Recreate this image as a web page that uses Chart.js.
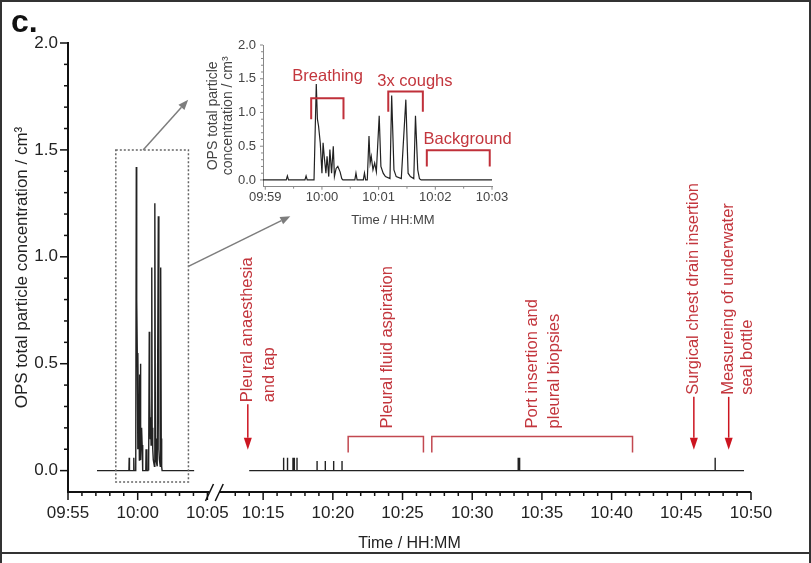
<!DOCTYPE html>
<html>
<head>
<meta charset="utf-8">
<script src="https://cdn.jsdelivr.net/npm/chart.js@4.4.1/dist/chart.umd.min.js"></script>
<style>
  html, body { margin: 0; padding: 0; background: #fff; }
  #wrap { position: relative; width: 811px; height: 563px; overflow: hidden; background: #fff; }
  #main { position: absolute; left: 0; top: 0; }
  #inset { position: absolute; left: 180px; top: 30px; }
  .frame { position: absolute; left: 0; top: 0; width: 807px; height: 550px; border: 2px solid #333; }
  .frame-low { position: absolute; left: 0; top: 554px; width: 807px; height: 20px; border-left: 2px solid #333; border-right: 2px solid #333; }
</style>
</head>
<body>
<div id="wrap">
  <div class="frame"></div>
  <div class="frame-low"></div>
  <canvas id="main" width="811" height="563"></canvas>
  <canvas id="inset" width="350" height="210"></canvas>
</div>
<script>
const FONT = "'Liberation Sans', Arial, Helvetica, sans-serif";

// ---- data (time = minutes after 09:55) ----
// breathing + cough run, shown in the main panel and the inset
const runTimes = [2.08, 4.37, 4.39, 4.41, 4.70, 4.72, 4.74, 4.86, 4.90, 4.92, 4.94, 4.97, 5.00, 5.02,
    5.04, 5.07, 5.09, 5.12, 5.14, 5.17, 5.20, 5.22, 5.25, 5.28, 5.32, 5.35, 5.37, 5.58, 5.60, 5.62,
    5.73, 5.75, 5.77, 5.80, 5.83, 5.85, 5.87, 5.90, 5.93, 5.96, 6.01, 6.04, 6.08, 6.12, 6.20, 6.23,
    6.27, 6.31, 6.40, 6.48, 6.52, 6.56, 6.62, 6.65, 6.69, 6.72, 6.75, 9.05];
const runValues = [0, 0, 0.06, 0, 0, 0.06, 0, 0, 1.42, 0.90, 0.80, 0.55, 0.10, 0.55,
    0.35, 0.10, 0.35, 0.05, 0.45, 0.10, 0.50, 0.05, 0.17, 0.20, 0.12, 0.02, 0, 0, 0.10, 0,
    0, 0.10, 0, 0, 0.65, 0.25, 0.35, 0.15, 0.25, 0.12, 0.95, 0.20, 0.10, 0.05, 0.02, 1.25,
    0.15, 0.05, 0.02, 1.19, 0.10, 0.05, 0.02, 0.95, 0.15, 0.02, 0, 0];

// procedure recording (after the axis break)
const procStart = 19.0;
const procEnd = 54.5;
const spikeTimes = [21.47, 21.75, 22.14, 22.24, 22.43, 23.87, 24.46, 25.06, 25.66, 38.30, 38.40, 52.43];
const spikeValues = [0.06, 0.06, 0.06, 0.06, 0.06, 0.045, 0.045, 0.045, 0.045, 0.06, 0.06, 0.06];

const xTickLabels = ['09:55', '10:00', '10:05', '10:15', '10:20', '10:25', '10:30', '10:35', '10:40', '10:45', '10:50'];
const yTickLabels = ['0.0', '0.5', '1.0', '1.5', '2.0'];
const insetXTickLabels = ['09:59', '10:00', '10:01', '10:02', '10:03'];

// annotations
const eventNames = [['Pleural anaesthesia', 'and tap'], ['Surgical chest drain insertion'], ['Measureing of underwater', 'seal bottle']];
const eventTimes = [18.9, 50.9, 53.4];
const phaseNames = [['Pleural fluid aspiration'], ['Port insertion and', 'pleural biopsies']];
const phaseStart = [26.1, 32.1];
const phaseEnd = [31.5, 46.5];
const insetPhaseNames = ['Breathing', '3x coughs', 'Background'];
const insetPhaseStart = [4.81, 6.17, 6.85];
const insetPhaseEnd = [5.38, 6.78, 7.96];
const insetPhaseTop = [1.21, 1.31, 0.44];
const insetPhaseLeg = [0.90, 1.01, 0.20];
const insetLabelT = [5.10, 6.64, 7.57];
const insetLabelV = [1.53, 1.46, 0.60];

// axis break: 10:05 .. 10:11 is squeezed out
const BREAK_AT = 10, BREAK_SKIP = 6;
function toAxis(m) { return m <= BREAK_AT ? m : m - BREAK_SKIP; }
function clockToMin(s) {
    const [h, mm] = s.split(':').map(Number);
    return h * 60 + mm - (9 * 60 + 55);
}

const redText = '#c3363d';
const redMark = '#cc1520';

const runPoints = runTimes.map((t, i) => ({ x: toAxis(t), y: runValues[i] }));
const procPoints = [{ x: toAxis(procStart), y: 0 }];
spikeTimes.forEach((t, i) => {
    procPoints.push({ x: toAxis(t), y: 0 }, { x: toAxis(t), y: spikeValues[i] }, { x: toAxis(t), y: 0 });
});
procPoints.push({ x: toAxis(procEnd), y: 0 });

const mainMajorX = xTickLabels.map(s => toAxis(clockToMin(s)));
const insetMajorX = insetXTickLabels.map(clockToMin);

function labelFor(list, positions, v) {
    const i = positions.findIndex(p => Math.abs(p - v) < 1e-6);
    return i >= 0 ? list[i] : '';
}
const yMajor = yTickLabels.map(Number);

function tickMarks(ctx, xs, ys, o) {
    ctx.save();
    ctx.strokeStyle = o.color;
    ctx.lineWidth = o.width;
    xs.ticks.forEach(t => {
        const px = xs.getPixelForValue(t.value);
        const len = t.label ? o.major : o.minor;
        ctx.beginPath(); ctx.moveTo(px, xs.top); ctx.lineTo(px, xs.top + len); ctx.stroke();
    });
    ys.ticks.forEach(t => {
        const py = ys.getPixelForValue(t.value);
        const len = t.label ? o.major : o.minor;
        ctx.beginPath(); ctx.moveTo(ys.right - len, py); ctx.lineTo(ys.right, py); ctx.stroke();
    });
    ctx.restore();
}

function arrow(ctx, x1, y1, x2, y2, headLen, headHalf, color, width) {
    const a = Math.atan2(y2 - y1, x2 - x1);
    const bx = x2 - headLen * Math.cos(a), by = y2 - headLen * Math.sin(a);
    ctx.strokeStyle = color; ctx.fillStyle = color; ctx.lineWidth = width;
    ctx.beginPath(); ctx.moveTo(x1, y1); ctx.lineTo(bx, by); ctx.stroke();
    ctx.beginPath();
    ctx.moveTo(x2, y2);
    ctx.lineTo(bx + headHalf * Math.sin(a), by - headHalf * Math.cos(a));
    ctx.lineTo(bx - headHalf * Math.sin(a), by + headHalf * Math.cos(a));
    ctx.closePath(); ctx.fill();
}

function verticalText(ctx, lines, x, yStart, gap) {
    lines.forEach((s, i) => {
        ctx.save();
        ctx.translate(x + i * gap, yStart);
        ctx.rotate(-Math.PI / 2);
        ctx.textAlign = 'left';
        ctx.textBaseline = 'middle';
        ctx.fillText(s, 0, 0);
        ctx.restore();
    });
}

function bracket(ctx, x1, x2, yTop, yLeg) {
    ctx.beginPath();
    ctx.moveTo(x1, yLeg); ctx.lineTo(x1, yTop); ctx.lineTo(x2, yTop); ctx.lineTo(x2, yLeg);
    ctx.stroke();
}

const mainDecor = {
    id: 'mainDecor',
    afterDraw(chart) {
        const { ctx, chartArea } = chart;
        const x = chart.scales.x, y = chart.scales.y;
        tickMarks(ctx, x, y, { color: '#111', width: 1.5, major: 8, minor: 4 });

        ctx.save();
        // x axis with break marks
        const ay = chartArea.bottom;
        const b1 = x.getPixelForValue(10.15), b2 = x.getPixelForValue(10.85);
        ctx.strokeStyle = '#111';
        ctx.lineWidth = 2;
        ctx.beginPath();
        ctx.moveTo(chartArea.left - 1, ay); ctx.lineTo(b1, ay);
        ctx.moveTo(b2, ay); ctx.lineTo(chartArea.right, ay);
        ctx.stroke();
        ctx.lineWidth = 1.5;
        [b1, b2].forEach(cx => {
            ctx.beginPath(); ctx.moveTo(cx - 4, ay + 9); ctx.lineTo(cx + 4, ay - 8); ctx.stroke();
        });

        // zoom box
        ctx.strokeStyle = '#666';
        ctx.lineWidth = 1.5;
        ctx.setLineDash([2, 2]);
        const rx1 = x.getPixelForValue(3.43), rx2 = x.getPixelForValue(8.64);
        const ry1 = y.getPixelForValue(1.5), ry2 = y.getPixelForValue(-0.053);
        ctx.strokeRect(rx1, ry1, rx2 - rx1, ry2 - ry1);
        ctx.setLineDash([]);

        // arrows to the inset
        arrow(ctx, x.getPixelForValue(5.39), ry1, x.getPixelForValue(8.62), y.getPixelForValue(1.734), 10, 4, '#7d7d7d', 1.5);
        arrow(ctx, rx2, y.getPixelForValue(0.955), x.getPixelForValue(15.95), y.getPixelForValue(1.19), 10, 4, '#7d7d7d', 1.5);

        // events
        ctx.font = '16.5px ' + FONT;
        eventNames.forEach((lines, i) => {
            const px = x.getPixelForValue(toAxis(eventTimes[i]));
            const top = y.getPixelForValue(i === 0 ? 0.31 : 0.345);
            arrow(ctx, px, top, px, y.getPixelForValue(0.098), 12, 4, redMark, 1.5);
            ctx.fillStyle = redText;
            verticalText(ctx, lines, px, top - 2, i === 2 ? 19 : 22);
        });

        // phases
        ctx.strokeStyle = '#c24850';
        ctx.lineWidth = 1.5;
        phaseNames.forEach((lines, i) => {
            const p1 = x.getPixelForValue(toAxis(phaseStart[i])), p2 = x.getPixelForValue(toAxis(phaseEnd[i]));
            const top = y.getPixelForValue(0.16);
            bracket(ctx, p1, p2, top, y.getPixelForValue(0.085));
            ctx.fillStyle = redText;
            verticalText(ctx, lines, (p1 + p2) / 2 + (lines.length === 1 ? 2 : 0), top - 8, 22);
        });

        // panel letter
        ctx.fillStyle = '#111';
        ctx.font = 'bold 32px ' + FONT;
        ctx.textAlign = 'left';
        ctx.textBaseline = 'alphabetic';
        ctx.fillText('c.', 11, 32);
        ctx.restore();
    }
};

const insetDecor = {
    id: 'insetDecor',
    afterDraw(chart) {
        const { ctx } = chart;
        const x = chart.scales.x, y = chart.scales.y;
        tickMarks(ctx, x, y, { color: '#888', width: 1, major: 3, minor: 2 });
        ctx.save();
        ctx.strokeStyle = '#c0303a';
        ctx.lineWidth = 2;
        ctx.font = '16.5px ' + FONT;
        ctx.fillStyle = redText;
        ctx.textAlign = 'center';
        ctx.textBaseline = 'middle';
        insetPhaseNames.forEach((name, i) => {
            bracket(ctx, x.getPixelForValue(insetPhaseStart[i]), x.getPixelForValue(insetPhaseEnd[i]),
                y.getPixelForValue(insetPhaseTop[i]), y.getPixelForValue(insetPhaseLeg[i]));
            ctx.fillText(name, x.getPixelForValue(insetLabelT[i]), y.getPixelForValue(insetLabelV[i]));
        });
        ctx.fillStyle = '#444';
        ctx.font = '13px ' + FONT;
        ctx.fillText('Time / HH:MM', 213, 190);
        ctx.restore();
    }
};

new Chart(document.getElementById('main'), {
    type: 'line',
    data: {
        datasets: [
            { data: runPoints, borderColor: '#222', borderWidth: 1.4, pointRadius: 0, tension: 0 },
            { data: procPoints, borderColor: '#222', borderWidth: 1.4, pointRadius: 0, tension: 0 }
        ]
    },
    options: {
        responsive: false,
        animation: false,
        devicePixelRatio: 1,
        layout: { padding: { left: 0, right: 60, top: 43, bottom: 8 } },
        plugins: { legend: { display: false }, tooltip: { enabled: false } },
        scales: {
            x: {
                type: 'linear', min: 0, max: 49,
                afterFit: s => { s.height = 63; },
                afterBuildTicks: s => {
                    const vals = [];
                    for (let v = 0; v <= 10; v++) vals.push(v);
                    for (let v = 12; v <= 49; v++) vals.push(v);
                    s.ticks = vals.map(v => ({ value: v }));
                },
                grid: { drawOnChartArea: false, drawTicks: true, tickLength: 8, tickColor: 'rgba(0,0,0,0)' },
                border: { display: false },
                ticks: {
                    autoSkip: false, maxRotation: 0, padding: 3, color: '#222',
                    font: { family: FONT, size: 17 },
                    callback: v => labelFor(xTickLabels, mainMajorX, v)
                },
                title: { display: true, text: 'Time / HH:MM', color: '#222', font: { family: FONT, size: 16 }, padding: { top: 0, bottom: 2 } }
            },
            y: {
                min: -0.1, max: 2.0,
                afterFit: s => { s.width = 68; },
                afterBuildTicks: s => {
                    s.ticks = Array.from({ length: 21 }, (_, i) => ({ value: i / 10 }));
                },
                grid: { drawOnChartArea: false, drawTicks: true, tickLength: 8, tickColor: 'rgba(0,0,0,0)' },
                border: { display: true, color: '#111', width: 2 },
                ticks: {
                    autoSkip: false, padding: 2, color: '#222',
                    font: { family: FONT, size: 17 },
                    callback: v => labelFor(yTickLabels, yMajor, v)
                },
                title: { display: true, text: 'OPS total particle concentration / cm³', color: '#222', font: { family: FONT, size: 17 }, padding: { top: 12, bottom: 0 } }
            }
        }
    },
    plugins: [mainDecor]
});

new Chart(document.getElementById('inset'), {
    type: 'line',
    data: {
        datasets: [
            { data: runTimes.map((t, i) => ({ x: t, y: runValues[i] })), borderColor: '#222', borderWidth: 1.2, pointRadius: 0, tension: 0 }
        ]
    },
    options: {
        responsive: false,
        animation: false,
        devicePixelRatio: 1,
        layout: { padding: { left: 0, right: 38, top: 15, bottom: 0 } },
        plugins: { legend: { display: false }, tooltip: { enabled: false } },
        scales: {
            x: {
                type: 'linear', min: 3.96, max: 8,
                afterFit: s => { s.height = 53.3; },
                afterBuildTicks: s => {
                    const vals = [];
                    for (let v = 4; v <= 8; v += 0.5) vals.push(v);
                    s.ticks = vals.map(v => ({ value: v }));
                },
                grid: { drawOnChartArea: false, drawTicks: true, tickLength: 3, tickColor: 'rgba(0,0,0,0)' },
                border: { display: true, color: '#888', width: 1 },
                ticks: {
                    autoSkip: false, maxRotation: 0, padding: 1, color: '#444',
                    font: { family: FONT, size: 13, lineHeight: 1 },
                    callback: v => labelFor(insetXTickLabels, insetMajorX, v)
                }
            },
            y: {
                min: -0.1, max: 2.0,
                afterFit: s => { s.width = 83; },
                afterBuildTicks: s => {
                    s.ticks = Array.from({ length: 21 }, (_, i) => ({ value: i / 10 }));
                },
                grid: { drawOnChartArea: false, drawTicks: true, tickLength: 3, tickColor: 'rgba(0,0,0,0)' },
                border: { display: true, color: '#888', width: 1 },
                ticks: {
                    autoSkip: false, padding: 4, color: '#444',
                    font: { family: FONT, size: 13 },
                    callback: v => labelFor(yTickLabels, yMajor, v)
                },
                title: {
                    display: true, text: ['OPS total particle', 'concentration / cm³'], color: '#444',
                    font: { family: FONT, size: 14, lineHeight: 1.05 }, padding: { top: 26, bottom: 0 }
                }
            }
        }
    },
    plugins: [insetDecor]
});
</script>
</body>
</html>
